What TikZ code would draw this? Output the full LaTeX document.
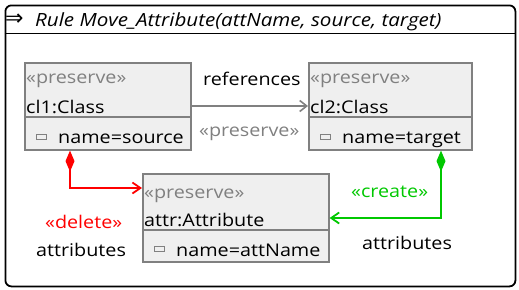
\documentclass[tikz,border=0pt]{standalone}
\usepackage{fontspec}
\setmainfont[FakeStretch=1.13]{Open Sans}
\newfontfamily\symfont{DejaVu Sans}
\usetikzlibrary{arrows.meta}
\definecolor{boxfill}{HTML}{EFEFEF}
\definecolor{boxline}{HTML}{808080}
\definecolor{delred}{HTML}{FF0000}
\definecolor{crgreen}{HTML}{00C800}
\begin{document}
\begin{tikzpicture}[x=1pt,y=-1pt,
  txt/.style={inner sep=0pt,anchor=base west,font=\fontsize{17.5}{17.5}\selectfont},
  stereo/.style={txt,text=boxline},
  objbox/.style={draw=boxline,fill=boxfill,line width=1.6pt,inner sep=0pt,anchor=north west},
  sepline/.style={draw=boxline,line width=1.6pt},
  attricon/.style={draw=boxline,fill=boxfill,line width=0.9pt,inner sep=0pt,minimum width=10pt,minimum height=5pt,anchor=west},
  refarrow/.style={draw=boxline,line width=1.6pt,-{Straight Barb[length=7pt,width=11pt]}},
  comp/.style={line width=1.8pt,{Diamond[length=21pt,width=9pt]}-{Straight Barb[length=8pt,width=11pt]}}
]
\useasboundingbox (0,0) rectangle (519,289);
% rule frame with header
\node[draw=black,line width=1.8pt,rounded corners=6pt,minimum width=510pt,minimum height=281pt,inner sep=0pt,anchor=north west] (frame) at (4.5,4.5) {};
\coordinate (hl) at (4.5,33.5);
\coordinate (hr) at (514.5,33.5);
\draw[line width=1.6pt] (hl) -- (hr);
\node[inner sep=0pt,anchor=west,font=\symfont\fontsize{22}{22}\selectfont] (ruleicon) at (5,20) {⇒};
\node[txt,font=\fontsize{18.2}{18.2}\selectfont\itshape] (title) at (35,26) {Rule Move\_Attribute(attName, source, target)};

% cl1:Class
\node[objbox,minimum width=166pt,minimum height=87pt] (cl1) at (24,62) {};
\draw[sepline] (24,117) -- (190,117);
\node[stereo] (cl1s) at (26,83) {«preserve»};
\node[txt] (cl1n) at (26,113) {cl1:Class};
\node[attricon] (cl1i) at (36,137) {};
\node[txt] (cl1a) at (58,143) {name=source};

% cl2:Class
\node[objbox,minimum width=163pt,minimum height=87pt] (cl2) at (308,62) {};
\draw[sepline] (308,117) -- (471,117);
\node[stereo] (cl2s) at (310,83) {«preserve»};
\node[txt] (cl2n) at (310,113) {cl2:Class};
\node[attricon] (cl2i) at (320,137) {};
\node[txt] (cl2a) at (342,143) {name=target};

% attr:Attribute
\node[objbox,minimum width=186pt,minimum height=88pt] (attr) at (142,173) {};
\draw[sepline] (142,230) -- (328,230);
\node[stereo] (attrs) at (144,198) {«preserve»};
\node[txt] (attrn) at (144,226) {attr:Attribute};
\node[attricon] (attri) at (154,249) {};
\node[txt] (attra) at (176,256) {name=attName};

% references edge
\draw[refarrow] (cl1.east |- 0,106) -- (cl2.west |- 0,106);
\node[txt] (reflbl) at (203,85) {references};
\node[stereo] (refst) at (199,136) {«preserve»};

% deleted containment edge
\coordinate (dbend) at (70,188);
\draw[comp,draw=delred] (cl1.south -| dbend) -- (dbend) -- (attr.west |- dbend);
\node[txt,text=delred] (dst) at (45,228) {«delete»};
\node[txt] (dlbl) at (36,256) {attributes};

% created containment edge
\coordinate (cbend) at (441,218);
\draw[comp,draw=crgreen] (cl2.south -| cbend) -- (cbend) -- (attr.east |- cbend);
\node[txt,text=crgreen] (cst) at (351,197) {«create»};
\node[txt] (clbl) at (362,249) {attributes};
\end{tikzpicture}
\end{document}
